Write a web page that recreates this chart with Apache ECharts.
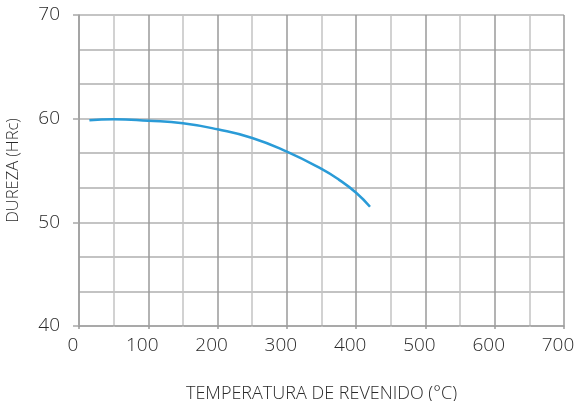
<!DOCTYPE html>
<html>
<head>
<meta charset="utf-8">
<script src="https://cdn.jsdelivr.net/npm/echarts@6/dist/echarts.min.js"></script>
<style>
  html, body { margin: 0; padding: 0; background: #fff; }
  #chart { width: 578px; height: 401px; }
</style>
</head>
<body>
<div id="chart"></div>
<script>
// Tempering curve: hardness vs tempering temperature
const temperatures = [15, 50, 100, 150, 200, 250, 300, 350, 375, 400, 420];
const hardness = [59.85, 59.95, 59.8, 59.55, 58.97, 58.14, 56.82, 55.15, 54.12, 52.85, 51.5];

const xTicks = [0, 100, 200, 300, 400, 500, 600, 700];
const yTicks = [40, 50, 60, 70];

const xTitle = 'TEMPERATURA DE REVENIDO (°C)';
const yTitle = 'DUREZA (HRc)';

const labelFont = '"Open Sans", "DejaVu Sans", sans-serif';
const chart = echarts.init(document.getElementById('chart'), null, { renderer: 'canvas' });

chart.setOption({
  animation: false,
  grid: { left: 79, top: 15, width: 485, height: 311, containLabel: false, outerBoundsMode: 'none' },
  xAxis: {
    type: 'value',
    min: xTicks[0],
    max: xTicks[xTicks.length - 1],
    interval: 100,
    name: xTitle,
    nameLocation: 'middle',
    nameGap: 59,
    nameTextStyle: { fontFamily: labelFont, fontSize: 18, color: '#2a2a2a', fontWeight: 300 },
    axisLine: { show: true, lineStyle: { color: '#a0a0a0', width: 1.5 } },
    axisTick: { show: true, length: 3, lineStyle: { color: '#9a9a9a', width: 1.5 } },
    minorTick: { show: true, splitNumber: 2, length: 1, lineStyle: { color: '#c4c4c4', width: 1.5 } },
    axisLabel: {
      margin: 10,
      padding: [0, 12, 0, 0],
      fontFamily: labelFont,
      fontSize: 19,
      fontWeight: 300,
      color: '#2a2a2a',
      formatter: v => (xTicks.includes(v) ? String(v) : '')
    },
    splitLine: { show: true, lineStyle: { color: '#9a9a9a', width: 1.5 } },
    minorSplitLine: { show: true, lineStyle: { color: '#c4c4c4', width: 1.5 } }
  },
  yAxis: {
    type: 'value',
    min: yTicks[0],
    max: yTicks[yTicks.length - 1],
    interval: 10,
    name: yTitle,
    nameLocation: 'middle',
    nameGap: 57,
    nameTextStyle: { fontFamily: labelFont, fontSize: 16.5, color: '#2a2a2a', fontWeight: 300 },
    axisLine: { show: true, lineStyle: { color: '#a0a0a0', width: 1.5 } },
    axisTick: { show: true, length: 6, lineStyle: { color: '#a8a8a8', width: 1.5 } },
    minorTick: { show: false, splitNumber: 3 },
    axisLabel: {
      margin: 19,
      fontFamily: labelFont,
      fontSize: 19,
      fontWeight: 300,
      color: '#2a2a2a',
      formatter: v => (yTicks.includes(v) ? String(v) : '')
    },
    splitLine: { show: true, lineStyle: { color: '#b0b0b0', width: 1.5 } },
    minorSplitLine: { show: true, lineStyle: { color: '#b0b0b0', width: 1.5 } }
  },
  series: [{
    type: 'line',
    data: temperatures.map((t, i) => [t, hardness[i]]),
    smooth: 0.5,
    showSymbol: false,
    lineStyle: { color: '#2a9bd7', width: 2.5 }
  }]
});
</script>
</body>
</html>
